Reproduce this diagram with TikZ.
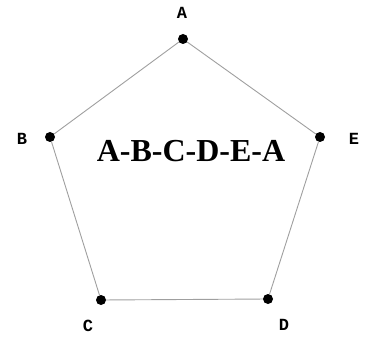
\documentclass[tikz,border=0pt]{standalone}
\usepackage{fontspec}
\setmainfont{Liberation Serif}
\setmonofont{Liberation Mono}
\usepackage{tikz}
\usetikzlibrary{positioning}
\tikzset{
  vert/.style={circle,fill=black,inner sep=0pt,minimum size=10pt},
  vlabel/.style={font=\ttfamily\bfseries\fontsize{17}{19}\selectfont,inner sep=0pt},
  edge/.style={gray!75,line width=0.9pt}
}
\begin{document}
\begin{tikzpicture}[x=1pt,y=-1pt]
  \useasboundingbox (0,0) rectangle (369,339);
  % vertices
  \node[vert] (A) at (183,39) {};
  \node[vert] (B) at (50,137) {};
  \node[vert] (C) at (101,300) {};
  \node[vert] (D) at (268,299) {};
  \node[vert] (E) at (320,137) {};
  % edges of the tour
  \draw[edge] (A) -- (B) -- (C) -- (D) -- (E) -- (A);
  % labels
  \node[vlabel] (la) at (182,13) {A};
  \node[vlabel] (lb) at (22,139) {B};
  \node[vlabel] (lc) at (88,326) {C};
  \node[vlabel] (ld) at (284,325) {D};
  \node[vlabel] (le) at (354,139) {E};
  \node[font=\bfseries\fontsize{32}{36}\selectfont] (tour) at (191,151) {A-B-C-D-E-A};
\end{tikzpicture}
\end{document}
